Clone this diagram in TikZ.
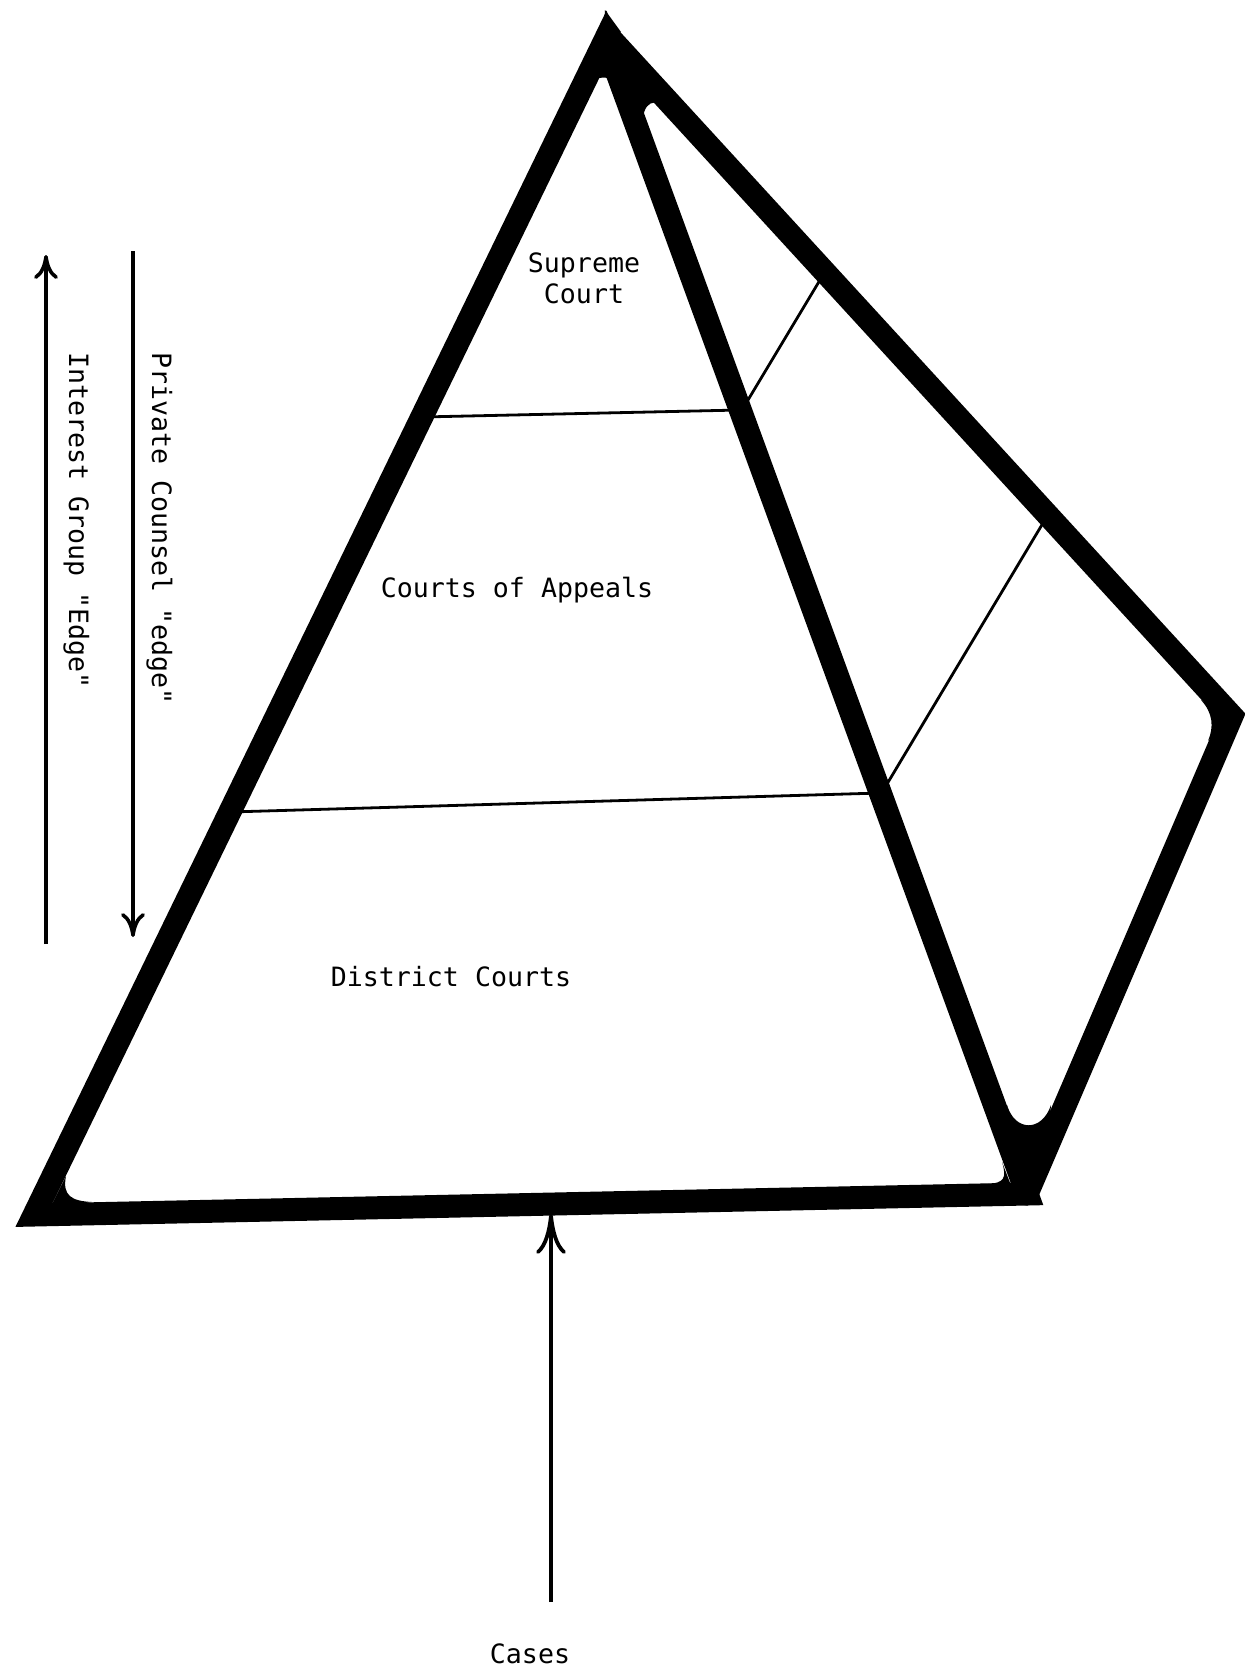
\documentclass[tikz,border=0pt]{standalone}
\usepackage{fontspec}
\setmonofont{DejaVu Sans Mono}
\usetikzlibrary{arrows.meta}
\begin{document}
\begin{tikzpicture}[x=0.5pt,y=-0.5pt,
  marker/.style={line width=11.5pt, line join=miter, black},
  divider/.style={line width=1.4pt},
  lbl/.style={font=\ttfamily\fontsize{13.3pt}{15.5pt}\selectfont, inner sep=0pt},
  edgearrow/.style={line width=1.8pt, -{Computer Modern Rightarrow[length=12pt,width=12pt]}},
  casearrow/.style={line width=1.9pt, -{Computer Modern Rightarrow[length=20pt,width=15pt]}},
]
\useasboundingbox (0,0) rectangle (1245,1672);
% pyramid corners
\coordinate (A) at (605,40);
\coordinate (BL) at (34,1215);
\coordinate (BR) at (1027,1194);
\coordinate (T) at (612,40);
\coordinate (R) at (1232,716);
% front face and back face
\draw[marker] (A) -- (BL) -- (BR) -- cycle;
\draw[marker, line cap=round] (T) -- (R) -- (BR);
% ink where the strokes meet (rounded inner corners)
\fill (605,10) -- (621,32) -- (603,48) -- cycle;
\fill (612,40) circle[radius=6];
\fill (643,118) .. controls (645,98) and (662,96) .. (672,120) -- (620,45) -- (615,45) -- cycle;
\fill (590,85) .. controls (595,75) and (612,75) .. (618,85) -- (605,50) -- cycle;
\fill (1007,1105) .. controls (1015,1132) and (1042,1132) .. (1051,1105) -- (1045,1178) -- (1015,1178) -- cycle;
\fill (66,1176) .. controls (62,1196) and (72,1201) .. (92,1202) -- (50,1208) -- cycle;
\fill (1002,1162) .. controls (1007,1178) and (1004,1183) .. (988,1184) -- (1012,1188) -- cycle;
\fill (1201,700) .. controls (1213,713) and (1214,727) .. (1208,741) -- (1228,718) -- cycle;
% level dividers
\coordinate (s1) at (422,417); \coordinate (s2) at (740,410);
\coordinate (s3) at (745,405); \coordinate (s4) at (823,275);
\coordinate (a1) at (230,812); \coordinate (a2) at (880,793);
\coordinate (a3) at (887,784); \coordinate (a4) at (1046,518);
\draw[divider] (s1) -- (s2);
\draw[divider] (s3) -- (s4);
\draw[divider] (a1) -- (a2);
\draw[divider] (a3) -- (a4);
% labels
\node[lbl, anchor=base] (sup) at (584,272) {Supreme};
\node[lbl, anchor=base] (court) at (584,303) {Court};
\node[lbl, anchor=base] (coa) at (517,597) {Courts of Appeals};
\node[lbl, anchor=base] (dc) at (451,986) {District Courts};
\node[lbl, anchor=base] (cases) at (530,1663) {Cases};
\node[lbl, rotate=-90, anchor=base west] (pc) at (152,352) {Private Counsel "edge"};
\node[lbl, rotate=-90, anchor=base west] (ig) at (69,352) {Interest Group "Edge"};
% arrows
\coordinate (ig1) at (46,944); \coordinate (ig2) at (46,255);
\coordinate (pc1) at (133,251); \coordinate (pc2) at (133,937);
\coordinate (c1) at (551,1602); \coordinate (c2) at (551,1214);
\draw[edgearrow] (ig1) -- (ig2);
\draw[edgearrow] (pc1) -- (pc2);
\draw[casearrow] (c1) -- (c2);
\end{tikzpicture}
\end{document}
